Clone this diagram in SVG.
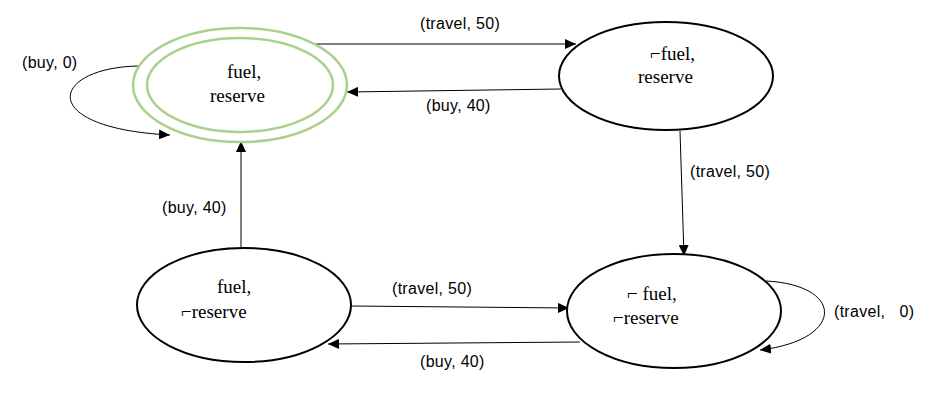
<svg xmlns="http://www.w3.org/2000/svg" width="930" height="405" viewBox="0 0 930 405">
<style>
.state{fill:#fff;stroke:#000;stroke-width:2}
.final{fill:#fff;stroke:#A9D18E;stroke-width:2.5}
.st{font-family:"Liberation Serif","DejaVu Serif",serif;font-size:19px;fill:#000}
.lbl{font-family:"Liberation Sans","DejaVu Sans",sans-serif;font-size:16px;letter-spacing:0.3px;fill:#000;white-space:pre}
.edge{fill:none;stroke:#000;stroke-width:1}
</style>
<defs>
<marker id="arr" markerUnits="userSpaceOnUse" markerWidth="12" markerHeight="10" refX="11" refY="5" orient="auto">
<path d="M0,0 L11,5 L0,10 Z" fill="#000"/>
</marker>
</defs>
<rect width="930" height="405" fill="#fff"/>
<g id="edges">
<path class="edge" d="M316,44 L576,44" marker-end="url(#arr)"/>
<path class="edge" d="M561,89 L347,92" marker-end="url(#arr)"/>
<path class="edge" d="M680,131 L684,256" marker-end="url(#arr)"/>
<path class="edge" d="M241,248 L241,141" marker-end="url(#arr)"/>
<path class="edge" d="M351,306 L569,308" marker-end="url(#arr)"/>
<path class="edge" d="M580,342 L328,344" marker-end="url(#arr)"/>
<path class="edge" d="M138,66 C50,68 35,128 170,135" marker-end="url(#arr)"/>
<path class="edge" d="M766,281 C845,285 845,340 760,350" marker-end="url(#arr)"/>
<text class="lbl" x="22" y="68">(buy, 0)</text>
<text class="lbl" x="420" y="29">(travel, 50)</text>
<text class="lbl" x="426" y="111">(buy, 40)</text>
<text class="lbl" x="690" y="177">(travel, 50)</text>
<text class="lbl" x="162" y="213">(buy, 40)</text>
<text class="lbl" x="392" y="294">(travel, 50)</text>
<text class="lbl" x="420" y="367">(buy, 40)</text>
<text class="lbl" x="834" y="317" xml:space="preserve">(travel,   0)</text>
</g>
<g id="nodeA">
<ellipse class="final" cx="240" cy="85" rx="107" ry="57"/>
<ellipse class="final" cx="240" cy="85" rx="93" ry="47"/>
<text class="st" x="227" y="78">fuel,</text>
<text class="st" x="210" y="102">reserve</text>
</g>
<g id="nodeB">
<ellipse class="state" cx="666" cy="76" rx="107" ry="54"/>
<text class="st" x="650" y="60">⌐fuel,</text>
<text class="st" x="638" y="83">reserve</text>
</g>
<g id="nodeC">
<ellipse class="state" cx="244" cy="305" rx="107" ry="57"/>
<text class="st" x="217" y="293">fuel,</text>
<text class="st" x="181" y="318">⌐reserve</text>
</g>
<g id="nodeD">
<ellipse class="state" cx="674" cy="311" rx="107" ry="57"/>
<text class="st" x="627" y="300" xml:space="preserve">⌐ fuel,</text>
<text class="st" x="613" y="324">⌐reserve</text>
</g>
</svg>
